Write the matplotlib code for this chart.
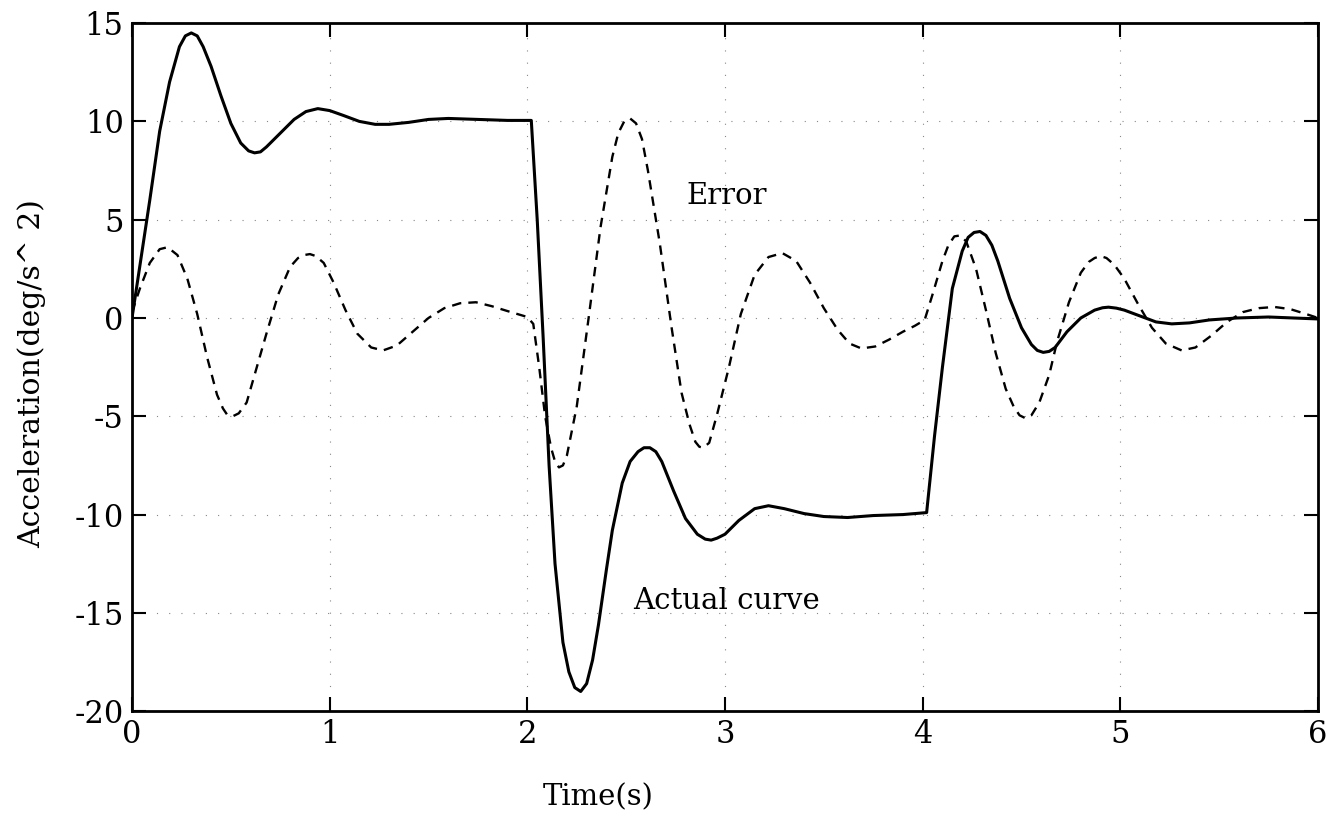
import numpy as np
import matplotlib
matplotlib.use('Agg')
import matplotlib.pyplot as plt

plt.rcParams['font.family'] = ['DejaVu Serif']
plt.rcParams['axes.unicode_minus'] = False

# actual curve (solid)
t_act = [0.00, 0.03, 0.09, 0.14, 0.19, 0.24, 0.27, 0.30, 0.33, 0.36, 0.40, 0.45,
         0.50, 0.55, 0.59, 0.62, 0.65, 0.68, 0.75, 0.82, 0.88, 0.94, 1.00, 1.07,
         1.15, 1.23, 1.30, 1.40, 1.50, 1.60, 1.75, 1.90, 2.02, 2.05, 2.08, 2.11,
         2.14, 2.18, 2.21, 2.24, 2.27, 2.30, 2.33, 2.36, 2.40, 2.43, 2.48, 2.52,
         2.56, 2.59, 2.62, 2.65, 2.68, 2.74, 2.80, 2.86, 2.90, 2.93, 2.96, 3.00,
         3.07, 3.15, 3.22, 3.30, 3.40, 3.50, 3.62, 3.75, 3.90, 4.02, 4.06, 4.10,
         4.15, 4.20, 4.23, 4.26, 4.29, 4.32, 4.35, 4.38, 4.44, 4.50, 4.55, 4.58,
         4.61, 4.64, 4.67, 4.73, 4.80, 4.87, 4.91, 4.94, 4.98, 5.02, 5.10, 5.18,
         5.26, 5.35, 5.45, 5.59, 5.75, 6.00]
y_act = [0.0, 2.0, 6.0, 9.5, 12.0, 13.8, 14.35, 14.5, 14.35, 13.8, 12.8, 11.3,
         9.9, 8.9, 8.5, 8.4, 8.45, 8.7, 9.4, 10.1, 10.5, 10.65, 10.55, 10.3,
         10.0, 9.85, 9.85, 9.95, 10.1, 10.15, 10.1, 10.05, 10.05, 5.0, -1.0, -7.5,
         -12.5, -16.5, -18.0, -18.8, -19.0, -18.6, -17.4, -15.6, -12.8, -10.8, -8.4, -7.3,
         -6.8, -6.6, -6.6, -6.8, -7.3, -8.8, -10.2, -11.0, -11.25, -11.3, -11.2, -11.0,
         -10.3, -9.7, -9.55, -9.7, -9.95, -10.1, -10.15, -10.05, -10.0, -9.9, -6.0, -2.5,
         1.5, 3.4, 4.1, 4.35, 4.4, 4.2, 3.7, 2.9, 1.0, -0.5, -1.35, -1.65,
         -1.75, -1.7, -1.5, -0.7, 0.0, 0.4, 0.52, 0.55, 0.5, 0.4, 0.1, -0.2,
         -0.3, -0.25, -0.1, 0.0, 0.05, -0.05]

# error curve (dashed)
t_err = [0.00, 0.04, 0.09, 0.14, 0.18, 0.23, 0.28, 0.33, 0.38, 0.43, 0.46, 0.48,
         0.51, 0.54, 0.58, 0.62, 0.68, 0.74, 0.80, 0.84, 0.87, 0.90, 0.93, 0.97,
         1.02, 1.08, 1.14, 1.21, 1.27, 1.34, 1.42, 1.50, 1.58, 1.66, 1.74, 1.82,
         1.90, 2.00, 2.03, 2.06, 2.09, 2.12, 2.14, 2.16, 2.18, 2.20, 2.25, 2.31,
         2.37, 2.43, 2.46, 2.49, 2.52, 2.55, 2.58, 2.61, 2.67, 2.73, 2.78, 2.82,
         2.85, 2.87, 2.89, 2.92, 2.96, 3.02, 3.08, 3.15, 3.22, 3.29, 3.36, 3.43,
         3.50, 3.57, 3.63, 3.69, 3.76, 3.83, 3.90, 3.96, 4.01, 4.05, 4.10, 4.13,
         4.16, 4.19, 4.22, 4.27, 4.32, 4.37, 4.42, 4.46, 4.49, 4.52, 4.55, 4.59,
         4.64, 4.68, 4.74, 4.80, 4.84, 4.87, 4.90, 4.93, 4.97, 5.02, 5.09, 5.16,
         5.23, 5.31, 5.38, 5.46, 5.54, 5.62, 5.70, 5.78, 5.86, 5.94, 6.00]
y_err = [0.3, 1.5, 2.8, 3.5, 3.6, 3.2, 2.0, 0.2, -2.0, -3.9, -4.6, -4.9,
         -5.0, -4.85, -4.3, -2.9, -0.8, 1.2, 2.6, 3.05, 3.2, 3.25, 3.15, 2.8,
         1.8, 0.4, -0.8, -1.5, -1.65, -1.4, -0.7, 0.0, 0.5, 0.75, 0.8, 0.6,
         0.35, 0.05, -0.3, -2.5, -5.0, -6.6, -7.3, -7.6, -7.5, -7.0, -4.5, 0.0,
         4.6, 8.2, 9.4, 10.0, 10.15, 9.9, 9.1, 7.5, 3.8, -0.5, -3.8, -5.4,
         -6.3, -6.55, -6.6, -6.35, -4.9, -2.5, 0.2, 2.2, 3.1, 3.3, 2.9, 1.8,
         0.5, -0.6, -1.3, -1.55, -1.45, -1.1, -0.7, -0.4, -0.1, 1.2, 2.9, 3.7,
         4.15, 4.2, 3.9, 2.5, 0.4, -1.8, -3.6, -4.5, -4.95, -5.1, -4.95, -4.3,
         -2.9, -1.2, 0.8, 2.3, 2.85, 3.05, 3.15, 3.05, 2.7, 2.0, 0.7, -0.5,
         -1.3, -1.65, -1.5, -0.9, -0.2, 0.3, 0.5, 0.56, 0.45, 0.2, 0.0]

xticks = [0, 1, 2, 3, 4, 5, 6]
yticks = [-20, -15, -10, -5, 0, 5, 10, 15]

fig = plt.figure(figsize=(13.32, 8.25), dpi=100)
ax = fig.add_axes([0.0991, 0.138, 0.8904, 0.834])

ax.plot(t_act, y_act, color='black', lw=2.2, solid_joinstyle='round')
ax.plot(t_err, y_err, color='black', lw=1.7, linestyle=(0, (4, 3)))

ax.text(3.01, 6.2, 'Error', fontsize=21, ha='center', va='center')
ax.text(3.01, -14.4, 'Actual curve', fontsize=21, ha='center', va='center')

ax.set_xlim(0, 6)
ax.set_ylim(-20, 15)
ax.set_xticks(xticks)
ax.set_yticks(yticks)
ax.grid(True, color='#888888', linestyle=(0, (1, 10)), lw=0.8)
ax.tick_params(direction='in', length=10, width=1.5, labelsize=22,
               top=True, right=True, pad=6)
for s in ax.spines.values():
    s.set_linewidth(2.0)

ax.set_xlabel('Time(s)', fontsize=21)
ax.xaxis.set_label_coords(0.393, -0.105)
ax.set_ylabel('Acceleration(deg/s^ 2)', fontsize=21.5)
ax.yaxis.set_label_coords(-0.072, 0.49)

fig.savefig('out.png', dpi=100)
